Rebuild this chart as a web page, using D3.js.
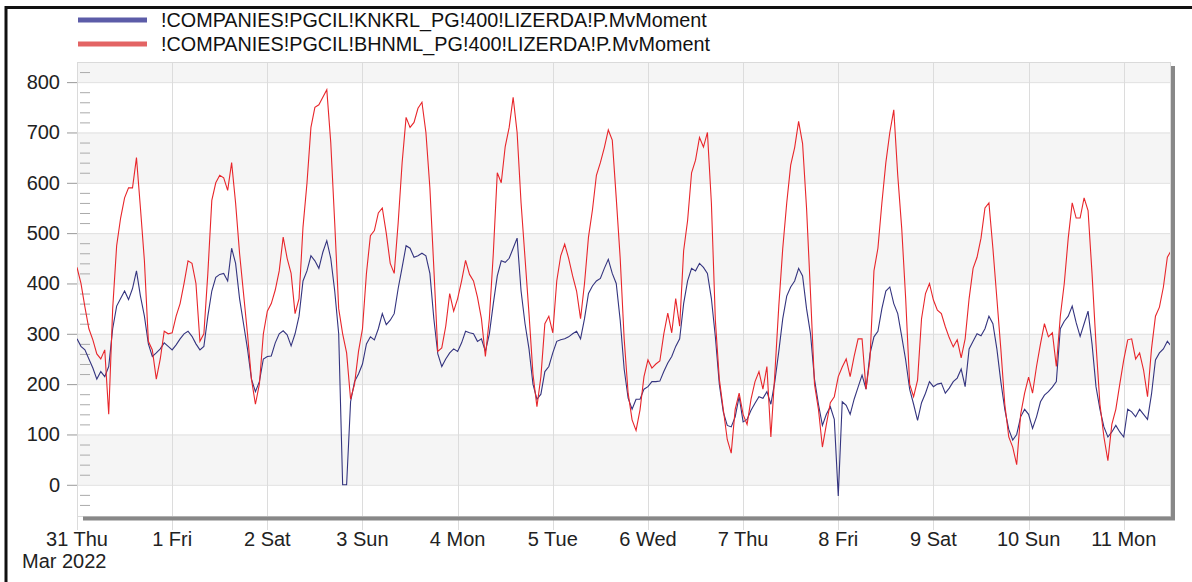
<!DOCTYPE html>
<html>
<head>
<meta charset="utf-8">
<script src="https://cdn.jsdelivr.net/npm/d3@7"></script>
<style>
  body { margin: 0; background: #fff; }
  svg { display: block; font-family: "Liberation Sans", Arial, sans-serif; }
</style>
</head>
<body>
<svg id="chart" width="1192" height="582"></svg>
<script>
// Hourly MW readings for two PGCIL lines, 31 Mar - 11 Apr 2022

const seriesNames = [
  "!COMPANIES!PGCIL!KNKRL_PG!400!LIZERDA!P.MvMoment",
  "!COMPANIES!PGCIL!BHNML_PG!400!LIZERDA!P.MvMoment",
];

const startTime = new Date(2022, 2, 31, 0, 0);
const endTime = new Date(2022, 3, 11, 11, 40);

// one value per hour from 31 Mar 00:00
const blueValues = [
  290, 275, 268, 250, 232, 210, 225, 215, 235, 310, 355, 370, 385, 368, 390, 425, 375, 335, 280, 255, 262, 270, 282, 275,
  268, 278, 290, 300, 305, 295, 280, 268, 275, 335, 385, 412, 418, 420, 405, 470, 440, 370, 320, 270, 210, 185, 205, 250,
  255, 256, 282, 300, 306, 298, 276, 300, 335, 405, 425, 455, 445, 430, 462, 485, 450, 385, 300, 0, 0, 165, 205, 220,
  240, 280, 294, 288, 310, 340, 318, 327, 340, 390, 432, 475, 470, 452, 455, 460, 455, 420, 330, 260, 235, 250, 262, 270,
  265, 282, 305, 302, 300, 285, 290, 265, 300, 360, 415, 445, 442, 450, 470, 490, 385, 320, 270, 200, 170, 180, 225, 235,
  262, 285, 288, 290, 294, 300, 305, 290, 330, 380, 395, 405, 410, 430, 448, 420, 400, 327, 230, 172, 150, 170, 170, 190,
  195, 205, 205, 206, 225, 242, 255, 275, 290, 360, 405, 430, 425, 440, 432, 420, 370, 294, 200, 145, 118, 115, 135, 175,
  125, 130, 148, 162, 175, 172, 185, 160, 205, 265, 330, 375, 393, 405, 430, 415, 350, 300, 210, 160, 118, 140, 155, 130,
  -22, 165, 158, 140, 170, 194, 218, 190, 260, 294, 305, 350, 385, 393, 360, 340, 295, 248, 190, 160, 128, 163, 182, 205,
  195, 200, 202, 182, 192, 205, 212, 230, 195, 270, 285, 300, 296, 310, 335, 320, 270, 205, 150, 110, 89, 100, 135, 150,
  140, 112, 135, 165, 178, 185, 194, 205, 310, 325, 335, 355, 322, 295, 320, 345, 280, 195, 150, 115, 95, 105, 118, 105,
  95, 150, 145, 135, 150, 140, 130, 180, 248, 262, 270, 285, 275,
];

const redValues = [
  432, 400, 353, 310, 288, 260, 250, 268, 140, 350, 475, 530, 570, 590, 590, 650, 550, 445, 285, 268, 210, 250, 305, 300,
  302, 335, 360, 400, 445, 440, 400, 285, 300, 420, 565, 600, 615, 610, 585, 640, 560, 460, 380, 300, 210, 160, 200, 300,
  345, 360, 387, 425, 492, 450, 420, 340, 370, 512, 599, 710, 750, 755, 770, 785, 680, 520, 350, 300, 262, 170, 200, 265,
  310, 420, 495, 505, 540, 550, 500, 440, 420, 520, 640, 730, 710, 720, 748, 760, 700, 590, 430, 265, 272, 315, 380, 345,
  370, 405, 446, 418, 405, 373, 330, 255, 330, 460, 620, 600, 672, 710, 770, 700, 560, 450, 340, 220, 155, 215, 320, 335,
  302, 405, 455, 478, 450, 415, 385, 330, 400, 492, 546, 615, 640, 670, 705, 685, 570, 450, 290, 182, 129, 108, 149, 215,
  248, 232, 240, 246, 300, 341, 302, 370, 315, 465, 525, 620, 645, 690, 671, 700, 560, 327, 210, 150, 90, 63, 150, 182,
  140, 120, 170, 205, 225, 190, 235, 95, 220, 355, 470, 560, 635, 670, 722, 678, 550, 380, 200, 150, 75, 120, 163, 175,
  215, 234, 250, 215, 255, 290, 290, 190, 250, 425, 470, 560, 640, 700, 745, 615, 510, 370, 200, 175, 208, 330, 380, 400,
  367, 347, 340, 314, 292, 274, 288, 252, 290, 370, 430, 452, 490, 550, 560, 470, 370, 270, 160, 95, 75, 40, 140, 182,
  214, 182, 235, 280, 320, 294, 302, 235, 335, 400, 490, 560, 530, 530, 570, 545, 420, 280, 160, 95, 48, 120, 150, 200,
  248, 288, 290, 250, 262, 228, 175, 270, 335, 353, 393, 452, 466,
];

const yTicks = [0, 100, 200, 300, 400, 500, 600, 700, 800];
const bandStarts = [0, 200, 400, 600, 800];

const plot = { left: 77, right: 1170, top: 62, bottom: 516 };
const blueColor = "#34347f";
const redColor = "#e8262b";

const svg = d3.select("#chart");

const x = d3.scaleTime().domain([startTime, endTime]).range([plot.left, plot.right]);
const y = d3.scaleLinear().domain([-62, 840]).range([plot.bottom, plot.top]);

const timeAt = (i) => d3.timeHour.offset(startTime, i);

// outer frame of the picture
svg
  .append("path")
  .attr("d", "M6,582 L6,7.5 L1192,7.5")
  .attr("fill", "none")
  .attr("stroke", "#111")
  .attr("stroke-width", 3);

// alternating bands
svg
  .append("g")
  .selectAll("rect")
  .data(bandStarts)
  .enter()
  .append("rect")
  .attr("x", plot.left)
  .attr("width", plot.right - plot.left)
  .attr("y", (d) => y(Math.min(d + 100, 840)))
  .attr("height", (d) => y(d) - y(Math.min(d + 100, 840)))
  .attr("fill", "#f5f5f5");

// horizontal grid
svg
  .append("g")
  .selectAll("line")
  .data(yTicks)
  .enter()
  .append("line")
  .attr("x1", plot.left)
  .attr("x2", plot.right)
  .attr("y1", (d) => y(d) + 0.5)
  .attr("y2", (d) => y(d) + 0.5)
  .attr("stroke", "#e0e0e0");

// day grid, running past the bottom as tick marks
const days = d3.timeDay.range(startTime, endTime);
svg
  .append("g")
  .selectAll("line")
  .data(days)
  .enter()
  .append("line")
  .attr("x1", (d) => Math.round(x(d)) + 0.5)
  .attr("x2", (d) => Math.round(x(d)) + 0.5)
  .attr("y1", plot.top)
  .attr("y2", 530)
  .attr("stroke", "#dcdcdc");

// plot frame and drop shadow
svg
  .append("rect")
  .attr("x", plot.left + 0.5)
  .attr("y", plot.top + 0.5)
  .attr("width", plot.right - plot.left)
  .attr("height", plot.bottom - plot.top)
  .attr("fill", "none")
  .attr("stroke", "#dadada");

svg
  .append("path")
  .attr("d", `M83,${plot.bottom + 2.5} L${plot.right + 3},${plot.bottom + 2.5} L${plot.right + 3},${plot.top + 4}`)
  .attr("fill", "none")
  .attr("stroke", "#888")
  .attr("stroke-width", 4);

// y axis: major ticks outside, minor ticks inside
svg
  .append("g")
  .selectAll("line")
  .data(yTicks)
  .enter()
  .append("line")
  .attr("x1", 67)
  .attr("x2", plot.left)
  .attr("y1", (d) => y(d) + 0.5)
  .attr("y2", (d) => y(d) + 0.5)
  .attr("stroke", "#999");

const minorTicks = d3.range(-40, 840, 20).filter((v) => v % 100 !== 0);
svg
  .append("g")
  .selectAll("line")
  .data(minorTicks)
  .enter()
  .append("line")
  .attr("x1", plot.left + 3)
  .attr("x2", plot.left + 13)
  .attr("y1", (d) => y(d) + 0.5)
  .attr("y2", (d) => y(d) + 0.5)
  .attr("stroke", "#aaa");

svg
  .append("g")
  .selectAll("text")
  .data(yTicks)
  .enter()
  .append("text")
  .attr("x", 60)
  .attr("y", (d) => y(d) + 7)
  .attr("text-anchor", "end")
  .attr("font-size", 20)
  .attr("fill", "#222")
  .text((d) => d);

// x axis labels
svg
  .append("g")
  .selectAll("text")
  .data(days)
  .enter()
  .append("text")
  .attr("x", (d) => x(d))
  .attr("y", 546)
  .attr("text-anchor", "middle")
  .attr("font-size", 20)
  .attr("fill", "#222")
  .text(d3.timeFormat("%-d %a"));

svg
  .append("text")
  .attr("x", 22)
  .attr("y", 568)
  .attr("font-size", 20)
  .attr("fill", "#222")
  .text(d3.timeFormat("%b %Y")(startTime));

// series
svg
  .append("clipPath")
  .attr("id", "plot-clip")
  .append("rect")
  .attr("x", plot.left)
  .attr("y", plot.top)
  .attr("width", plot.right - plot.left)
  .attr("height", plot.bottom - plot.top);

const line = d3
  .line()
  .x((d, i) => x(timeAt(i)))
  .y((d) => y(d));

const lines = svg.append("g").attr("clip-path", "url(#plot-clip)");

lines
  .append("path")
  .datum(blueValues)
  .attr("d", line)
  .attr("fill", "none")
  .attr("stroke", blueColor)
  .attr("stroke-width", 1.1);

lines
  .append("path")
  .datum(redValues)
  .attr("d", line)
  .attr("fill", "none")
  .attr("stroke", redColor)
  .attr("stroke-width", 1.1);

// legend
const legendItems = [
  { name: seriesNames[0], color: "#5c5ca8", y: 20 },
  { name: seriesNames[1], color: "#e36464", y: 44 },
];

const legend = svg
  .append("g")
  .selectAll("g")
  .data(legendItems)
  .enter()
  .append("g");

legend
  .append("line")
  .attr("x1", 78)
  .attr("x2", 147)
  .attr("y1", (d) => d.y)
  .attr("y2", (d) => d.y)
  .attr("stroke", (d) => d.color)
  .attr("stroke-width", 5);

legend
  .append("text")
  .attr("x", 161)
  .attr("y", (d) => d.y + 7)
  .attr("font-size", 19.8)
  .attr("fill", "#111")
  .text((d) => d.name);
</script>
</body>
</html>
